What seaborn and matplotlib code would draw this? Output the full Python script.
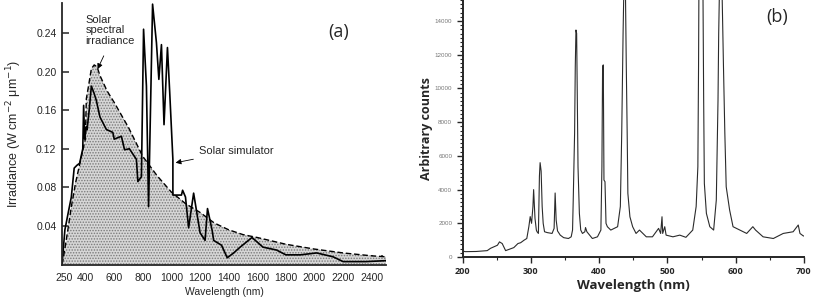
import numpy as np
import pandas as pd
import seaborn as sns
import matplotlib.pyplot as plt
from matplotlib.ticker import MultipleLocator

# (a) solar spectral irradiance (dashed, filled) vs solar simulator (solid)
sun_nm = [235, 250, 280, 300, 330, 360, 390, 398, 405, 420, 440, 460, 480, 500, 550,
          600, 700, 800, 900, 1000, 1100, 1200, 1300, 1400, 1500, 1600, 1800, 2000,
          2200, 2400, 2500]
sun_irr = [0.0, 0.012, 0.04, 0.06, 0.085, 0.105, 0.125, 0.13, 0.172, 0.185, 0.203,
           0.207, 0.205, 0.196, 0.18, 0.168, 0.142, 0.112, 0.092, 0.075, 0.063, 0.054,
           0.043, 0.036, 0.031, 0.028, 0.021, 0.016, 0.012, 0.009, 0.008]

sim_nm = [235, 255, 280, 300, 320, 340, 358, 380, 386, 393, 405, 410, 425, 440, 458,
          475, 500, 545, 590, 600, 650, 672, 706, 755, 765, 790, 805, 825, 840, 868,
          895, 912, 930, 948, 972, 988, 1010, 1010, 1070, 1078, 1098, 1120, 1155, 1200,
          1235, 1252, 1285, 1295, 1350, 1390, 1435, 1480, 1563, 1640, 1735, 1800, 1900,
          2015, 2130, 2200, 2360, 2500]
sim_irr = [0.0, 0.036, 0.055, 0.07, 0.1, 0.103, 0.105, 0.12, 0.165, 0.13, 0.143,
           0.14, 0.16, 0.185, 0.178, 0.17, 0.153, 0.14, 0.137, 0.13, 0.133, 0.119, 0.12,
           0.109, 0.086, 0.091, 0.244, 0.185, 0.06, 0.27, 0.23, 0.192, 0.228, 0.145,
           0.225, 0.178, 0.109, 0.072, 0.072, 0.077, 0.07, 0.038, 0.074, 0.033, 0.025,
           0.058, 0.035, 0.025, 0.02, 0.007, 0.012, 0.018, 0.028, 0.018, 0.015, 0.01,
           0.01, 0.012, 0.008, 0.003, 0.003, 0.004]

a_labels = [250, 400, 600, 800, 1000, 1200, 1400, 1600, 1800, 2000, 2200, 2400]
a_yticks = [0.04, 0.08, 0.12, 0.16, 0.20, 0.24]

# (b) lamp emission spectrum
lamp_nm = [200, 204, 220, 236, 241, 251, 254, 258, 263, 275, 281, 285, 290, 294,
           297, 299, 301, 303, 304, 306, 308, 309, 311, 312.5, 313.5, 315, 316.5, 318,
           320, 324, 331, 334, 335.5, 337, 339, 343, 348, 355, 359,
           361, 362, 364, 365, 366, 367, 368, 369, 371, 373, 375.5, 379, 380, 382, 390,
           397.5, 402.5, 404, 405, 406, 407, 408.5, 410, 412, 417, 427, 431, 433, 435,
           436, 437.3, 438.5, 439.7, 441, 442, 445, 449, 454, 459, 469, 478, 487, 490,
           492, 493, 496, 498, 508, 518, 527, 537, 542, 544.5, 545.5, 546, 549, 552,
           553, 554, 557, 562, 567.6, 571.5, 574, 575, 576, 578, 580, 582, 584, 586,
           591, 596, 606, 616, 625, 629, 640, 655, 669.5, 684, 691.5, 694, 699, 700]
lamp_cnt = [350, 320, 330, 380, 520, 700, 900, 800, 380, 560, 800, 850, 1000, 1100,
            1800, 2400, 2000, 3000, 4000, 2300, 1600, 1500, 1400, 4800, 5600, 5100, 3000,
            2000, 1500, 1450, 1400, 1700, 3800, 2200, 1550, 1300, 1150, 1100, 1200,
            1600, 3380, 7340, 11300, 13470, 13270, 9310, 5360, 2590, 1600, 1400, 1500,
            1750, 1500, 1100, 1200, 1600, 5360, 11300, 11400, 4570, 4470, 2000, 1800,
            1600, 1800, 3000, 7340, 13270, 15600, 30000, 15600, 11300, 7340, 3780, 2390,
            1800, 1400, 1600, 1200, 1200, 1700, 1400, 2390, 1400, 1800, 1300, 1200,
            1300, 1170, 1600, 3000, 5360, 11300, 15600, 30000, 15600, 9310, 4370, 2590,
            1800, 1600, 3380, 9310, 13270, 15600, 30000, 15600, 11300, 7340, 4170, 2790,
            1800, 1600, 1400, 1800, 1600, 1200, 1100, 1400, 1500, 1900, 1400, 1250, 1250]
b_xticks = [200, 300, 400, 500, 600, 700]
b_yticks = [0, 2000, 4000, 6000, 8000, 10000, 12000, 14000]

sns.set_style('ticks')
plt.rcParams['font.family'] = ['Liberation Sans', 'DejaVu Sans']
plt.rcParams['hatch.linewidth'] = 0.7

fig = plt.figure(figsize=(8.13, 3.06), dpi=100)
ax1 = fig.add_axes([0.0763, 0.1356, 0.3985, 0.854])
ax2 = fig.add_axes([0.569, 0.160, 0.420, 0.84])

# ---- panel (a)
sun = pd.DataFrame({'nm': sun_nm, 'irr': sun_irr})
sim = pd.DataFrame({'nm': sim_nm, 'irr': sim_irr})
ax1.fill_between(sun['nm'], sun['irr'], facecolor='#d6d6d6', hatch='......',
                 edgecolor='#7a7a7a', linewidth=0)
sns.lineplot(data=sun, x='nm', y='irr', ax=ax1, color='black', lw=1.0,
             sort=False, estimator=None)
ax1.lines[-1].set_dashes((4, 2))
sns.lineplot(data=sim, x='nm', y='irr', ax=ax1, color='black', lw=1.2,
             sort=False, estimator=None)

ax1.set_xlim(235, 2500)
ax1.set_ylim(0, 0.271)
ax1.set_xticks(a_labels)
ax1.set_xticklabels([str(v) for v in a_labels], fontsize=7.5)
ax1.tick_params(axis='x', which='major', length=0, pad=6)
ax1.set_xticks(np.arange(293, 2500, 66), minor=True)
ax1.tick_params(axis='x', which='minor', direction='in', length=7, width=1.1)
ax1.set_yticks(a_yticks)
ax1.set_yticklabels(['%.2f' % v for v in a_yticks], fontsize=7.5)
ax1.tick_params(axis='y', direction='in', length=5, width=1.1, pad=4)
for s in ['top', 'right']:
    ax1.spines[s].set_visible(False)
for s in ['left', 'bottom']:
    ax1.spines[s].set_linewidth(1.3)
ax1.set_xlabel('Wavelength (nm)', fontsize=7.5, labelpad=3)
ax1.set_ylabel('Irradiance (W cm$^{-2}$ μm$^{-1}$)', fontsize=9, labelpad=9)

ax1.text(400, 0.259, 'Solar\nspectral\nirradiance', fontsize=8, va='top',
         ha='left', linespacing=1.05)
ax1.annotate('', xy=(475, 0.200), xytext=(535, 0.219),
             arrowprops=dict(arrowstyle='-|>', color='black', lw=0.6,
                             mutation_scale=8))
ax1.annotate('Solar simulator', xy=(1010, 0.105), xytext=(1195, 0.118),
             fontsize=8, va='center',
             arrowprops=dict(arrowstyle='-|>', color='black', lw=0.6,
                             mutation_scale=8))
fig.text(0.416, 0.895, '(a)', fontsize=13, family='Open Sans', ha='center',
         va='center')

# ---- panel (b)
lamp = pd.DataFrame({'nm': lamp_nm, 'counts': lamp_cnt})
sns.lineplot(data=lamp, x='nm', y='counts', ax=ax2, color='#2b2b2b', lw=0.8,
             sort=False, estimator=None)
ax2.set_xlim(200, 700)
ax2.set_ylim(0, 15250)
ax2.set_xticks(b_xticks)
ax2.set_xticklabels([str(v) for v in b_xticks], fontsize=6.5, fontweight='bold',
                    family='Open Sans')
ax2.xaxis.set_minor_locator(MultipleLocator(50))
ax2.set_yticks(b_yticks)
ax2.set_yticklabels([str(v) for v in b_yticks], fontsize=4.5, color='#777777')
ax2.yaxis.set_minor_locator(MultipleLocator(250))
ax2.tick_params(axis='both', which='major', direction='out', length=4, width=1.0)
ax2.tick_params(axis='both', which='minor', direction='out', length=2.5, width=0.8)
for s in ['top', 'right']:
    ax2.spines[s].set_visible(False)
for s in ['left', 'bottom']:
    ax2.spines[s].set_linewidth(1.4)
ax2.set_xlabel('Wavelength (nm)', fontsize=9.5, fontweight='bold',
               family='Open Sans', labelpad=2)
ax2.set_ylabel('Arbitrary counts', fontsize=9, fontweight='bold',
               family='Open Sans', labelpad=1)
fig.text(0.956, 0.944, '(b)', fontsize=13, family='Open Sans', ha='center',
         va='center')

fig.savefig('out.png', dpi=100)
